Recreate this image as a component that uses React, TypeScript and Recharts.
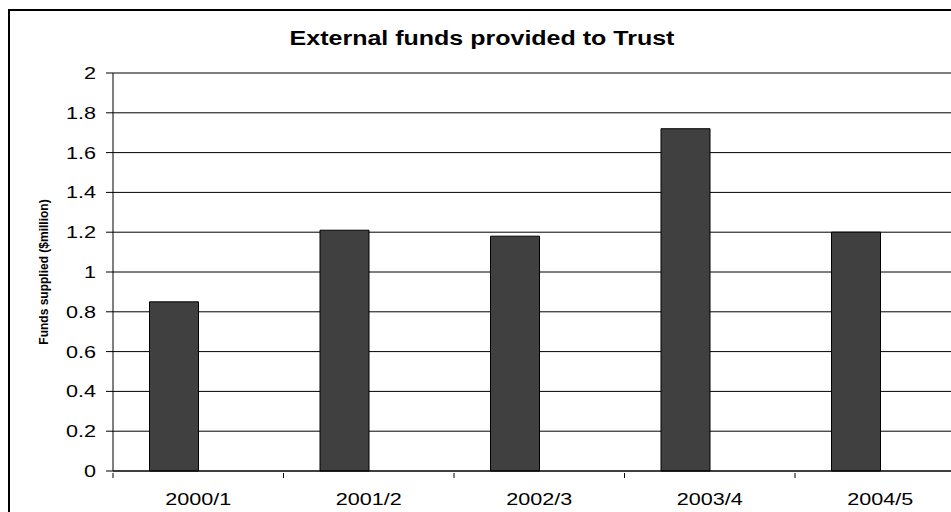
import React from "react";
import { BarChart, Bar, XAxis, YAxis, CartesianGrid, Label } from "recharts";

const categories = ["2000/1", "2001/2", "2002/3", "2003/4", "2004/5"];
const fundsSupplied = [0.85, 1.21, 1.18, 1.72, 1.2];
// second (empty) series, it only reserves the slot next to each bar
const secondSeries = [null, null, null, null, null];
const yTicks = [0, 0.2, 0.4, 0.6, 0.8, 1, 1.2, 1.4, 1.6, 1.8, 2];

const data = categories.map((year, i) => ({
  year,
  funds: fundsSupplied[i],
  other: secondSeries[i],
}));

const CHART_W = 980;
const CHART_H = 540;
const Y_AXIS_W = 103;
const MARGIN = { top: 62, right: 24.5, left: 0, bottom: 40 };
const PLOT_W = CHART_W - Y_AXIS_W - MARGIN.left - MARGIN.right;
const BAND = PLOT_W / categories.length;

const FONT = "'Liberation Sans', Arial, sans-serif";
const STRETCH = 1.35;

const XTick = (props: any) => {
  const { x, y, payload } = props;
  const edge = x - BAND / 2;
  return (
    <g>
      <line x1={edge} y1={y} x2={edge} y2={y + 5} stroke="#000" strokeWidth={1} />
      <text
        transform={`translate(${x},${y + 32}) scale(${STRETCH},1)`}
        textAnchor="middle"
        fontFamily={FONT}
        fontSize={16}
        fill="#000"
      >
        {payload.value}
      </text>
    </g>
  );
};

const YTick = (props: any) => {
  const { x, y, payload } = props;
  return (
    <text
      transform={`translate(${x},${y + 6}) scale(${STRETCH},1)`}
      textAnchor="end"
      fontFamily={FONT}
      fontSize={16}
      fill="#000"
    >
      {payload.value}
    </text>
  );
};

export default function App() {
  return (
    <div
      style={{
        position: "fixed",
        left: 0,
        top: 0,
        width: 951,
        height: 512,
        overflow: "hidden",
        background: "#fff",
      }}
    >
      <div
        style={{
          position: "absolute",
          left: 8,
          top: 9,
          width: 1100,
          height: 600,
          border: "2px solid #000",
        }}
      >
        <BarChart
          width={CHART_W}
          height={CHART_H}
          data={data}
          margin={MARGIN}
          barCategoryGap={36.5}
          barGap={0}
        >
          <CartesianGrid vertical={false} stroke="#000" strokeWidth={1} />
          <XAxis
            dataKey="year"
            height={40}
            tickSize={0}
            tickLine={false}
            axisLine={{ stroke: "#000", strokeWidth: 1 }}
            tick={<XTick />}
            interval={0}
          />
          <YAxis
            width={Y_AXIS_W}
            domain={[0, 2]}
            ticks={yTicks}
            interval={0}
            tickSize={7}
            tickMargin={10}
            tickLine={{ stroke: "#000", strokeWidth: 1 }}
            axisLine={{ stroke: "#000", strokeWidth: 1 }}
            tick={<YTick />}
          >
            <Label
              content={() => (
                <text
                  transform="translate(38,261) rotate(-90)"
                  textAnchor="middle"
                  fontFamily={FONT}
                  fontSize={12}
                  fontWeight="bold"
                  fill="#000"
                >
                  Funds supplied ($million)
                </text>
              )}
            />
          </YAxis>
          <Bar dataKey="funds" fill="#404040" stroke="#000" strokeWidth={1} isAnimationActive={false} />
          <Bar dataKey="other" fill="#ffffff" isAnimationActive={false} />
        </BarChart>
      </div>
      <div
        style={{
          position: "absolute",
          left: 0,
          top: 28,
          width: 964,
          textAlign: "center",
          fontFamily: FONT,
          fontWeight: "bold",
          fontSize: 20,
          lineHeight: "20px",
          color: "#000",
          transform: "scaleX(1.25)",
          transformOrigin: "482px 0",
        }}
      >
        External funds provided to Trust
      </div>
    </div>
  );
}
